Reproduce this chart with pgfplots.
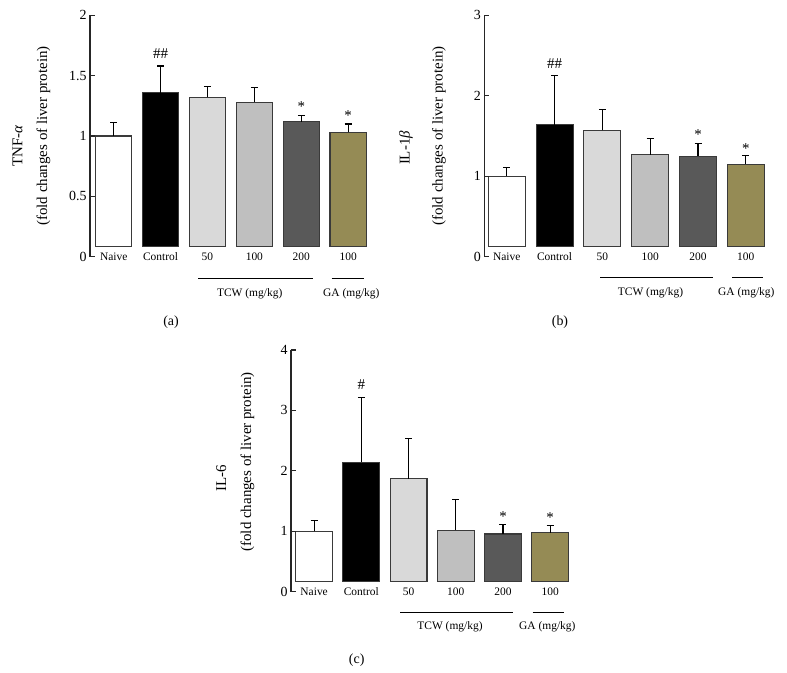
\documentclass[border=0pt]{standalone}
\usepackage{fontspec}
\setmainfont{Liberation Serif}
\usepackage{pgfplots}
\pgfplotsset{compat=1.18}
\definecolor{c50}{HTML}{D9D9D9}
\definecolor{c100}{HTML}{BFBFBF}
\definecolor{c200}{HTML}{595959}
\definecolor{cGA}{HTML}{958B55}
\definecolor{edge}{HTML}{3A3A3A}
\newcommand{\FS}[1]{\fontsize{#1}{#1}\selectfont}
\tikzset{ann/.style={font=\FS{15}}}
\pgfplotsset{
  barsaxis/.style={hide axis, scale only axis, anchor=south west, xmin=#1, xmax=5.5},
  b/.style={ybar, bar shift=0pt, draw=edge, line width=1.1bp,
    error bars/y dir=plus, error bars/y explicit,
    error bars/error bar style={black, line width=1.2bp},
    error bars/error mark options={rotate=90, black, mark size=3.5bp, line width=1.2bp}},
  frame/.style={scale only axis, anchor=south west, clip=false, xmin=#1, xmax=5.5, ymin=0,
    axis lines*=left, x axis line style={draw=none},
    xtick={0,...,5}, xticklabels={Naive,Control,50,100,200,100},
    xtick style={draw=none}, xticklabel style={anchor=center, font=\FS{11.5}},
    tick align=inside, major tick length=5bp,
    y axis line style={black!85, line width=1.2bp},
    ytick style={black!85, line width=1.2bp},
    yticklabel style={font=\FS{14}},
    /pgf/number format/assume math mode=true},
  ylab/.style 2 args={every axis y label/.style={at={([xshift=-#1bp,yshift=#2bp]axis description cs:0,0.5)},
    rotate=90, anchor=center, align=center, font=\fontsize{15}{18}\selectfont}},
}
\begin{document}
\begin{tikzpicture}
\useasboundingbox (0,0) rectangle (787bp,673bp);
% ---------------- (a) ----------------
\begin{axis}[barsaxis=-0.505, at={(90bp,426.3bp)}, width=281.6bp, height=231.4bp, ymin=0.0829, ymax=2, bar width=0.774]
\addplot[fill=white, b] coordinates {(0,1.00) +- (0,0.11)};
\addplot[fill=black, b] coordinates {(1,1.36) +- (0,0.22)};
\addplot[fill=c50, b] coordinates {(2,1.32) +- (0,0.09)};
\addplot[fill=c100, b] coordinates {(3,1.28) +- (0,0.12)};
\addplot[fill=c200, b] coordinates {(4,1.12) +- (0,0.05)};
\addplot[fill=cGA, b] coordinates {(5,1.03) +- (0,0.07)};
\end{axis}
\begin{axis}[frame=-0.505, at={(90bp,416.3bp)}, width=281.6bp, height=241.4bp, ymax=2,
  ytick={0,0.5,1,1.5,2}, ylab={58.5}{0},
  ylabel={TNF-\textit{α}\hspace*{20bp}\\[7bp](fold changes of liver protein)}]
\node[ann] at (axis cs:1,1.68) {\#\#};
\node[ann] at (axis cs:4,1.24) {*};
\node[ann] at (axis cs:5,1.165) {*};
\end{axis}
% ---------------- (b) ----------------
\begin{axis}[barsaxis=-0.47, at={(484.3bp,426.3bp)}, width=285.4bp, height=231.4bp, ymin=0.1243, ymax=3, bar width=0.774]
\addplot[fill=white, b] coordinates {(0,1.00) +- (0,0.11)};
\addplot[fill=black, b] coordinates {(1,1.64) +- (0,0.61)};
\addplot[fill=c50, b] coordinates {(2,1.57) +- (0,0.26)};
\addplot[fill=c100, b] coordinates {(3,1.27) +- (0,0.20)};
\addplot[fill=c200, b] coordinates {(4,1.25) +- (0,0.16)};
\addplot[fill=cGA, b] coordinates {(5,1.15) +- (0,0.11)};
\end{axis}
\begin{axis}[frame=-0.47, at={(484.3bp,416.3bp)}, width=285.4bp, height=241.4bp, ymax=3,
  ytick={0,1,2,3}, ylab={61.8}{0},
  ylabel={IL-1\textit{β}\hspace*{24bp}\\[15bp](fold changes of liver protein)}]
\node[ann] at (axis cs:1,2.40) {\#\#};
\node[ann] at (axis cs:4,1.52) {*};
\node[ann] at (axis cs:5,1.345) {*};
\end{axis}
% ---------------- (c) ----------------
\begin{axis}[barsaxis=-0.49, at={(291bp,91.3bp)}, width=282.8bp, height=231.7bp, ymin=0.1655, ymax=4, bar width=0.78]
\addplot[fill=white, b] coordinates {(0,1.00) +- (0,0.175)};
\addplot[fill=black, b] coordinates {(1,2.14) +- (0,1.07)};
\addplot[fill=c50, b] coordinates {(2,1.87) +- (0,0.67)};
\addplot[fill=c100, b] coordinates {(3,1.02) +- (0,0.50)};
\addplot[fill=c200, b] coordinates {(4,0.955) +- (0,0.16)};
\addplot[fill=cGA, b] coordinates {(5,0.977) +- (0,0.115)};
\end{axis}
\begin{axis}[frame=-0.49, at={(291bp,81.3bp)}, width=282.8bp, height=241.7bp, ymax=4,
  ytick={0,1,2,3,4}, ylab={55.8}{9},
  ylabel={IL-6\hspace*{32bp}\\[7bp](fold changes of liver protein)}]
\node[ann] at (axis cs:1,3.42) {\#};
\node[ann] at (axis cs:4,1.25) {*};
\node[ann] at (axis cs:5,1.225) {*};
\end{axis}
% ---------------- group lines and captions ----------------
\begin{scope}[line width=1.2bp]
\draw (198.3bp,394.7bp) -- (312.7bp,394.7bp);
\draw (331.7bp,394.7bp) -- (364bp,394.7bp);
\draw (600bp,395.3bp) -- (712.7bp,395.3bp);
\draw (732.3bp,395.3bp) -- (763.3bp,395.3bp);
\draw (400bp,60.3bp) -- (513.3bp,60.3bp);
\draw (532.7bp,60.3bp) -- (564.3bp,60.3bp);
\end{scope}
\begin{scope}[every node/.style={font=\FS{11.5}, inner sep=0pt}]
\node at (249.7bp,379.7bp) {TCW (mg/kg)};
\node at (351.3bp,379.7bp) {GA (mg/kg)};
\node at (650.5bp,380.3bp) {TCW (mg/kg)};
\node at (746.3bp,380.3bp) {GA (mg/kg)};
\node at (450bp,46.3bp) {TCW (mg/kg)};
\node at (547.3bp,46.3bp) {GA (mg/kg)};
\end{scope}
\begin{scope}[every node/.style={font=\FS{14}, inner sep=0pt}]
\node at (171bp,351bp) {(a)};
\node at (560bp,351bp) {(b)};
\node at (356.7bp,13bp) {(c)};
\end{scope}
\end{tikzpicture}
\end{document}
